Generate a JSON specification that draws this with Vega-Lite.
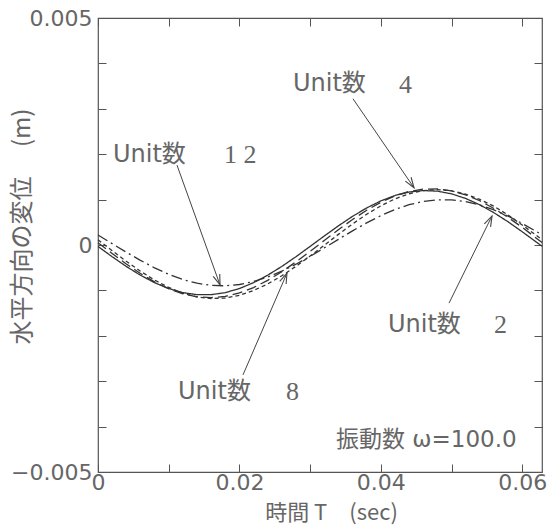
{
  "$schema": "https://vega.github.io/schema/vega-lite/v6.json",
  "width": 444,
  "height": 454,
  "autosize": {"type": "none"},
  "padding": {"left": 98, "top": 18, "right": 14, "bottom": 53},
  "background": "white",
  "config": {"view": {"stroke": "#555", "strokeWidth": 1.2}},
  "datasets": {
    "curves": [
      {"t":0,"y":-0.000031,"unit":"2"},{"t":0.002,"y":-0.000258,"unit":"2"},{"t":0.004,"y":-0.000472,"unit":"2"},{"t":0.006,"y":-0.000665,"unit":"2"},{"t":0.008,"y":-0.00083,"unit":"2"},{"t":0.01,"y":-0.000959,"unit":"2"},{"t":0.012,"y":-0.001049,"unit":"2"},{"t":0.014,"y":-0.001094,"unit":"2"},{"t":0.016,"y":-0.001094,"unit":"2"},{"t":0.018,"y":-0.001049,"unit":"2"},{"t":0.02,"y":-0.000959,"unit":"2"},{"t":0.022,"y":-0.00083,"unit":"2"},{"t":0.024,"y":-0.000665,"unit":"2"},{"t":0.026,"y":-0.000472,"unit":"2"},{"t":0.028,"y":-0.000258,"unit":"2"},{"t":0.03,"y":-0.000031,"unit":"2"},{"t":0.032,"y":0.000198,"unit":"2"},{"t":0.034,"y":0.000422,"unit":"2"},{"t":0.036,"y":0.000631,"unit":"2"},{"t":0.038,"y":0.000816,"unit":"2"},{"t":0.04,"y":0.000971,"unit":"2"},{"t":0.042,"y":0.00109,"unit":"2"},{"t":0.044,"y":0.001167,"unit":"2"},{"t":0.046,"y":0.001199,"unit":"2"},{"t":0.048,"y":0.001186,"unit":"2"},{"t":0.05,"y":0.001127,"unit":"2"},{"t":0.052,"y":0.001025,"unit":"2"},{"t":0.054,"y":0.000885,"unit":"2"},{"t":0.056,"y":0.000711,"unit":"2"},{"t":0.058,"y":0.000511,"unit":"2"},{"t":0.06,"y":0.000292,"unit":"2"},{"t":0.062,"y":0.000064,"unit":"2"},{"t":0.0628,"y":-0.000027,"unit":"2"},
      {"t":0,"y":0.000051,"unit":"4"},{"t":0.002,"y":-0.000188,"unit":"4"},{"t":0.004,"y":-0.000417,"unit":"4"},{"t":0.006,"y":-0.000628,"unit":"4"},{"t":0.008,"y":-0.000813,"unit":"4"},{"t":0.01,"y":-0.000964,"unit":"4"},{"t":0.012,"y":-0.001074,"unit":"4"},{"t":0.014,"y":-0.001141,"unit":"4"},{"t":0.016,"y":-0.00116,"unit":"4"},{"t":0.018,"y":-0.001131,"unit":"4"},{"t":0.02,"y":-0.001056,"unit":"4"},{"t":0.022,"y":-0.000937,"unit":"4"},{"t":0.024,"y":-0.000779,"unit":"4"},{"t":0.026,"y":-0.000588,"unit":"4"},{"t":0.028,"y":-0.000372,"unit":"4"},{"t":0.03,"y":-0.00014,"unit":"4"},{"t":0.032,"y":0.000099,"unit":"4"},{"t":0.034,"y":0.000336,"unit":"4"},{"t":0.036,"y":0.000561,"unit":"4"},{"t":0.038,"y":0.000766,"unit":"4"},{"t":0.04,"y":0.000941,"unit":"4"},{"t":0.042,"y":0.001083,"unit":"4"},{"t":0.044,"y":0.00118,"unit":"4"},{"t":0.046,"y":0.001231,"unit":"4"},{"t":0.048,"y":0.001236,"unit":"4"},{"t":0.05,"y":0.001194,"unit":"4"},{"t":0.052,"y":0.001105,"unit":"4"},{"t":0.054,"y":0.000975,"unit":"4"},{"t":0.056,"y":0.000805,"unit":"4"},{"t":0.058,"y":0.000608,"unit":"4"},{"t":0.06,"y":0.00039,"unit":"4"},{"t":0.062,"y":0.00015,"unit":"4"},{"t":0.0628,"y":0.000055,"unit":"4"},
      {"t":0,"y":0.000115,"unit":"8"},{"t":0.002,"y":-0.000125,"unit":"8"},{"t":0.004,"y":-0.000358,"unit":"8"},{"t":0.006,"y":-0.000577,"unit":"8"},{"t":0.008,"y":-0.000772,"unit":"8"},{"t":0.01,"y":-0.000935,"unit":"8"},{"t":0.012,"y":-0.001061,"unit":"8"},{"t":0.014,"y":-0.001143,"unit":"8"},{"t":0.016,"y":-0.001179,"unit":"8"},{"t":0.018,"y":-0.001167,"unit":"8"},{"t":0.02,"y":-0.001107,"unit":"8"},{"t":0.022,"y":-0.001003,"unit":"8"},{"t":0.024,"y":-0.000858,"unit":"8"},{"t":0.026,"y":-0.000678,"unit":"8"},{"t":0.028,"y":-0.00047,"unit":"8"},{"t":0.03,"y":-0.000243,"unit":"8"},{"t":0.032,"y":-0.000005,"unit":"8"},{"t":0.034,"y":0.000234,"unit":"8"},{"t":0.036,"y":0.000464,"unit":"8"},{"t":0.038,"y":0.000677,"unit":"8"},{"t":0.04,"y":0.000863,"unit":"8"},{"t":0.042,"y":0.001016,"unit":"8"},{"t":0.044,"y":0.001129,"unit":"8"},{"t":0.046,"y":0.001198,"unit":"8"},{"t":0.048,"y":0.00122,"unit":"8"},{"t":0.05,"y":0.001194,"unit":"8"},{"t":0.052,"y":0.00112,"unit":"8"},{"t":0.054,"y":0.001005,"unit":"8"},{"t":0.056,"y":0.000853,"unit":"8"},{"t":0.058,"y":0.00066,"unit":"8"},{"t":0.06,"y":0.000441,"unit":"8"},{"t":0.062,"y":0.000212,"unit":"8"},{"t":0.0628,"y":0.000118,"unit":"8"},
      {"t":0,"y":0.000219,"unit":"12"},{"t":0.002,"y":0.00003,"unit":"12"},{"t":0.004,"y":-0.000158,"unit":"12"},{"t":0.006,"y":-0.000338,"unit":"12"},{"t":0.008,"y":-0.000503,"unit":"12"},{"t":0.01,"y":-0.000645,"unit":"12"},{"t":0.012,"y":-0.00076,"unit":"12"},{"t":0.014,"y":-0.000842,"unit":"12"},{"t":0.016,"y":-0.000889,"unit":"12"},{"t":0.018,"y":-0.000899,"unit":"12"},{"t":0.02,"y":-0.00087,"unit":"12"},{"t":0.022,"y":-0.000805,"unit":"12"},{"t":0.024,"y":-0.000706,"unit":"12"},{"t":0.026,"y":-0.000577,"unit":"12"},{"t":0.028,"y":-0.000423,"unit":"12"},{"t":0.03,"y":-0.00025,"unit":"12"},{"t":0.032,"y":-0.000064,"unit":"12"},{"t":0.034,"y":0.000125,"unit":"12"},{"t":0.036,"y":0.000312,"unit":"12"},{"t":0.038,"y":0.000488,"unit":"12"},{"t":0.04,"y":0.000647,"unit":"12"},{"t":0.042,"y":0.000782,"unit":"12"},{"t":0.044,"y":0.000888,"unit":"12"},{"t":0.046,"y":0.00096,"unit":"12"},{"t":0.048,"y":0.000996,"unit":"12"},{"t":0.05,"y":0.000994,"unit":"12"},{"t":0.052,"y":0.000955,"unit":"12"},{"t":0.054,"y":0.00088,"unit":"12"},{"t":0.056,"y":0.000772,"unit":"12"},{"t":0.058,"y":0.000636,"unit":"12"},{"t":0.06,"y":0.000474,"unit":"12"},{"t":0.062,"y":0.000299,"unit":"12"},{"t":0.0628,"y":0.000223,"unit":"12"}
    ],
    "arrows": [
      {"t":0.01117,"y":0.00176,"t2":0.01726,"y2":-0.00088,"dir":160},
      {"t":0.03607,"y":0.00322,"t2":0.0447,"y2":0.00126,"dir":146},
      {"t":0.04965,"y":-0.00128,"t2":0.05573,"y2":0.00064,"dir":26},
      {"t":0.02051,"y":-0.00286,"t2":0.02673,"y2":-0.00062,"dir":23}
    ],
    "labels": [
      {"t":0.00212,"y":0.00198,"txt":"Unit数"},
      {"t":0.02758,"y":0.00355,"txt":"Unit数"},
      {"t":0.04102,"y":-0.00176,"txt":"Unit数"},
      {"t":0.01132,"y":-0.00324,"txt":"Unit数"}
    ],
    "digits": [
      {"t":0.01782,"y":0.00198,"txt":"1 2"},
      {"t":0.04258,"y":0.00353,"txt":"4"},
      {"t":0.05601,"y":-0.00176,"txt":"2"},
      {"t":0.02659,"y":-0.00324,"txt":"8"}
    ],
    "note": [
      {"t":0.03366,"y":-0.0043,"txt":"振動数 ω=100.0"}
    ]
  },
  "resolve": {"axis": {"x": "independent", "y": "independent"}},
  "layer": [
    {
      "data": {"name": "curves"},
      "mark": {"type": "line", "strokeWidth": 1.3, "color": "#333"},
      "encoding": {
        "x": {"field": "t", "type": "quantitative",
          "scale": {"domain": [0, 0.0628], "nice": false, "zero": false},
          "axis": {"orient": "bottom", "values": [0,0.01,0.02,0.03,0.04,0.05,0.06],
            "labelExpr": "datum.value == 0 ? '0' : (round(datum.value*100) % 2 == 0 ? format(datum.value, '.2f') : '')",
            "tickSize": -8, "tickColor": "#555", "tickWidth": 1, "domain": false, "grid": false,
            "labelFont": "DejaVu Sans", "labelFontSize": 22, "labelColor": "#666", "labelPadding": 8,
            "labelFlush": false, "labelOverlap": false,
            "title": "時間 T　(sec)", "titleFont": "Noto Sans CJK JP", "titleFontSize": 22, "titleFontWeight": "normal",
            "titleColor": "#666", "titleX": 233, "titleY": 40, "titleAlign": "center", "titleBaseline": "middle"}},
        "y": {"field": "y", "type": "quantitative",
          "scale": {"domain": [-0.005, 0.005], "nice": false, "zero": false},
          "axis": {"orient": "left", "values": [-0.005,-0.004,-0.003,-0.002,-0.001,0,0.001,0.002,0.003,0.004,0.005],
            "labelExpr": "abs(datum.value) < 1e-9 ? '0' : (abs(abs(datum.value) - 0.005) < 1e-9 ? (datum.value < 0 ? '−0.005' : '0.005') : '')",
            "tickSize": -8, "tickColor": "#555", "tickWidth": 1, "domain": false, "grid": false,
            "labelFont": "DejaVu Sans", "labelFontSize": 22, "labelColor": "#666", "labelPadding": 14,
            "labelFlush": false, "labelOverlap": false, "labelBaseline": "middle",
            "title": "水平方向の変位　  (m)", "titleFont": "Noto Sans CJK JP", "titleFontSize": 24, "titleFontWeight": "normal",
            "titleColor": "#666", "titleAngle": -90, "titleX": -76, "titleY": 208, "titleAlign": "center", "titleBaseline": "middle"}},
        "strokeDash": {"field": "unit", "type": "nominal",
          "scale": {"domain": ["2","4","8","12"], "range": [[1,0],[10,5],[4,3],[11,4,2,4]]}, "legend": null}
      }
    },
    {
      "data": {"name": "arrows"},
      "mark": {"type": "rule", "color": "#444", "strokeWidth": 1},
      "encoding": {
        "x": {"field": "t", "type": "quantitative",
          "scale": {"domain": [0, 0.0628], "nice": false, "zero": false},
          "axis": {"orient": "top", "values": [0,0.01,0.02,0.03,0.04,0.05,0.06], "labels": false,
            "tickSize": -8, "tickColor": "#555", "tickWidth": 1, "domain": false, "grid": false, "title": null}},
        "y": {"field": "y", "type": "quantitative",
          "scale": {"domain": [-0.005, 0.005], "nice": false, "zero": false},
          "axis": {"orient": "right", "values": [-0.005,-0.004,-0.003,-0.002,-0.001,0,0.001,0.002,0.003,0.004,0.005], "labels": false,
            "tickSize": -8, "tickColor": "#555", "tickWidth": 1, "domain": false, "grid": false, "title": null}},
        "x2": {"field": "t2"},
        "y2": {"field": "y2"}
      }
    },
    {
      "data": {"name": "arrows"},
      "mark": {"type": "point", "shape": "M -0.4 1.2 L 0 0 L 0.4 1.2", "filled": false, "stroke": "#444", "strokeWidth": 1.1, "size": 300, "opacity": 1},
      "encoding": {
        "x": {"field": "t2", "type": "quantitative", "axis": null},
        "y": {"field": "y2", "type": "quantitative", "axis": null},
        "angle": {"field": "dir", "type": "quantitative", "scale": null}
      }
    },
    {
      "data": {"name": "labels"},
      "mark": {"type": "text", "align": "left", "baseline": "middle", "font": "DejaVu Sans, Noto Sans CJK JP", "fontSize": 24, "color": "#666"},
      "encoding": {
        "x": {"field": "t", "type": "quantitative", "axis": null},
        "y": {"field": "y", "type": "quantitative", "axis": null},
        "text": {"field": "txt"}
      }
    },
    {
      "data": {"name": "digits"},
      "mark": {"type": "text", "align": "left", "baseline": "middle", "font": "Liberation Serif", "fontSize": 26, "color": "#666"},
      "encoding": {
        "x": {"field": "t", "type": "quantitative", "axis": null},
        "y": {"field": "y", "type": "quantitative", "axis": null},
        "text": {"field": "txt"}
      }
    },
    {
      "data": {"name": "note"},
      "mark": {"type": "text", "align": "left", "baseline": "middle", "font": "DejaVu Sans, Noto Sans CJK JP", "fontSize": 23, "color": "#666"},
      "encoding": {
        "x": {"field": "t", "type": "quantitative", "axis": null},
        "y": {"field": "y", "type": "quantitative", "axis": null},
        "text": {"field": "txt"}
      }
    }
  ]
}
